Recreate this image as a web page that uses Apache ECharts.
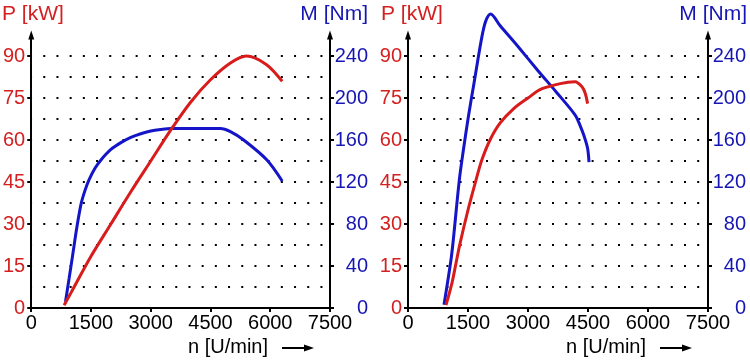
<!DOCTYPE html>
<html>
<head>
<meta charset="utf-8">
<script src="https://cdn.jsdelivr.net/npm/echarts@6/dist/echarts.min.js"></script>
<style>
html,body{margin:0;padding:0;background:#fff;}
#chart{width:750px;height:363px;}
</style>
</head>
<body>
<div id="chart"></div>
<script>
// ---- data ----
const xTicks = [0, 1500, 3000, 4500, 6000, 7500];
const pTicks = [0, 15, 30, 45, 60, 75, 90];
const mTicks = [0, 40, 80, 120, 160, 200, 240];

// left engine: power (kW)
const leftPRpm = [825, 1000, 1500, 2000, 2500, 3000, 3500, 4000, 4500, 5000, 5400, 5900, 6300];
const leftPVal = [1, 5.5, 18.5, 30, 41.5, 52.5, 63.5, 73.5, 81.5, 87.5, 90, 87, 81];
// left engine: torque (Nm)
const leftMRpm = [860, 950, 1050, 1150, 1250, 1350, 1450, 1600, 1750, 2000, 2250, 2500, 2750, 3000, 3250, 3500, 4750, 5000, 5333, 5917, 6300];
const leftMVal = [6, 28, 53, 78, 99, 112, 122, 133, 141, 151, 157.5, 162.5, 166, 168.5, 170, 171, 171, 168, 160, 141, 121];

// right engine: power (kW)
const rightPRpm = [950, 1100, 1200, 1300, 1500, 1700, 1850, 2050, 2300, 2650, 3000, 3300, 3650, 4000, 4175, 4350, 4430, 4490];
const rightPVal = [1, 9, 16, 23, 35, 45.7, 53, 60, 66, 71.3, 75, 78, 79.6, 80.6, 80.8, 79, 76.7, 73];
// right engine: torque (Nm)
const rightMRpm = [900, 1075, 1133, 1283, 1383, 1508, 1650, 1758, 1867, 1950, 2067, 2300, 2750, 3250, 3700, 4175, 4300, 4400, 4490, 4525];
const rightMVal = [3, 46, 65, 122, 150, 182, 214, 239, 262, 274, 280, 269, 249, 226, 206, 184, 174, 164, 152, 139];

const RED = '#d42020';
const BLUE = '#1616b4';
const LRED = '#d81c1c';
const LBLUE = '#1414c8';
const FONT = 'Liberation Sans, Arial, sans-serif';

function pairs(xs, ys) { return xs.map((x, i) => [x, ys[i]]); }

function xAxisDef(gi) {
  return {
    type: 'value', gridIndex: gi, min: 0, max: 7500, interval: 1500,
    axisLine: { show: true, onZero: false, lineStyle: { color: '#000', width: 2 } },
    axisTick: { show: true, length: 4, customValues: xTicks, lineStyle: { color: '#000', width: 2 } },
    axisLabel: { color: '#000', fontSize: 20, fontFamily: FONT, margin: 5, customValues: xTicks, formatter: v => String(v) },
    splitLine: { show: false }
  };
}
function pAxisDef(gi) {
  return {
    type: 'value', gridIndex: gi, position: 'left', min: 0, max: 97.5, interval: 15,
    axisLine: { show: true, onZero: false, symbol: ['none', 'triangle'], symbolSize: [6, 9], lineStyle: { color: '#000', width: 2 } },
    axisTick: { show: true, length: 4, customValues: pTicks, lineStyle: { color: '#000', width: 2 } },
    axisLabel: { color: RED, fontSize: 20, fontFamily: FONT, margin: 6, customValues: pTicks, formatter: v => String(v) },
    splitLine: { show: false }
  };
}
// hidden helper axis carrying the dotted grid rows (every 7.5 kW)
function gridAxisDef(gi) {
  return {
    type: 'value', gridIndex: gi, position: 'left', min: 0, max: 97.5, interval: 7.5,
    axisLine: { show: false }, axisTick: { show: false }, axisLabel: { show: false },
    splitLine: { show: true, showMinLine: false, showMaxLine: false,
      lineStyle: { color: '#000', width: 2, type: [2, 11.2], dashOffset: 1.2 } }
  };
}
function mAxisDef(gi) {
  return {
    type: 'value', gridIndex: gi, position: 'right', min: 0, max: 260, interval: 20,
    axisLine: { show: true, onZero: false, symbol: ['none', 'triangle'], symbolSize: [6, 9], lineStyle: { color: '#000', width: 2 } },
    axisTick: { show: true, length: 4, customValues: mTicks, lineStyle: { color: '#000', width: 2 } },
    axisLabel: { color: BLUE, fontSize: 20, fontFamily: FONT, margin: 38, align: 'right', customValues: mTicks, formatter: v => String(v) },
    splitLine: { show: false }
  };
}
function lineSeries(xi, yi, data, color) {
  return {
    type: 'line', xAxisIndex: xi, yAxisIndex: yi, data: data,
    showSymbol: false, smooth: 0.3, clip: false,
    lineStyle: { color: color, width: 3 }, z: 5
  };
}
function axisNameGroup(x0) {
  return [
    { type: 'text', left: x0 + 158, top: 337, style: { text: 'n [U/min]', fill: '#000', font: '20px ' + FONT } },
    { type: 'line', shape: { x1: x0 + 252, y1: 348, x2: x0 + 277, y2: 348 }, style: { stroke: '#000', lineWidth: 2 } },
    { type: 'polygon', shape: { points: [[x0 + 274, 344.5], [x0 + 284, 348], [x0 + 274, 351.5]] }, style: { fill: '#000' } }
  ];
}

const chart = echarts.init(document.getElementById('chart'), null, { renderer: 'canvas' });
chart.setOption({
  animation: false,
  backgroundColor: '#fff',
  grid: [
    { left: 30, top: 35, width: 300, height: 273 },
    { left: 408, top: 35, width: 300, height: 273 }
  ],
  xAxis: [xAxisDef(0), xAxisDef(1)],
  yAxis: [pAxisDef(0), mAxisDef(0), pAxisDef(1), mAxisDef(1), gridAxisDef(0), gridAxisDef(1)],
  series: [
    lineSeries(0, 1, pairs(leftMRpm, leftMVal), LBLUE),
    lineSeries(0, 0, pairs(leftPRpm, leftPVal), LRED),
    lineSeries(1, 3, pairs(rightMRpm, rightMVal), LBLUE),
    lineSeries(1, 2, pairs(rightPRpm, rightPVal), LRED)
  ],
  graphic: [
    { type: 'text', left: 2, top: 4, style: { text: 'P [kW]', fill: RED, font: '21px ' + FONT } },
    { type: 'text', right: 750 - 368, top: 4, style: { text: 'M [Nm]', fill: BLUE, font: '21px ' + FONT } },
    { type: 'text', left: 381, top: 4, style: { text: 'P [kW]', fill: RED, font: '21px ' + FONT } },
    { type: 'text', right: 3, top: 4, style: { text: 'M [Nm]', fill: BLUE, font: '21px ' + FONT } }
  ].concat(axisNameGroup(30), axisNameGroup(408))
});
</script>
</body>
</html>
